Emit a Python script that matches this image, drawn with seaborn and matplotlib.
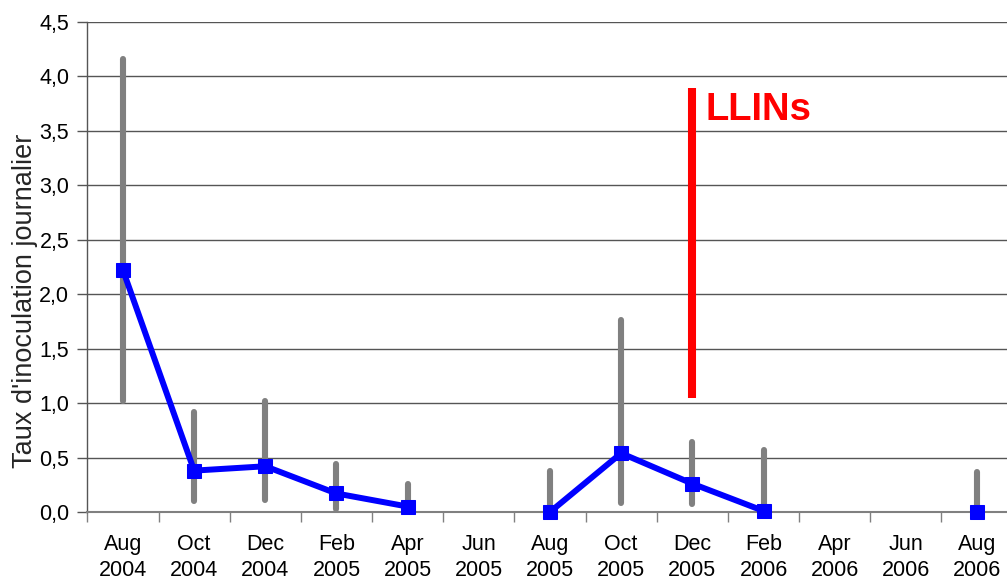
import matplotlib
matplotlib.use("Agg")
import matplotlib.pyplot as plt
import seaborn as sns
import numpy as np
import pandas as pd

# Sampling months
months = ["Aug", "Oct", "Dec", "Feb", "Apr", "Jun", "Aug",
          "Oct", "Dec", "Feb", "Apr", "Jun", "Aug"]
years = ["2004", "2004", "2004", "2005", "2005", "2005", "2005",
         "2005", "2005", "2006", "2006", "2006", "2006"]

# Daily inoculation rate (mean) and its interval bounds
eir_mean = [2.22, 0.38, 0.42, 0.17, 0.05, np.nan, 0.0,
            0.54, 0.26, 0.01, np.nan, np.nan, 0.0]
eir_low = [1.02, 0.10, 0.11, 0.03, 0.0, np.nan, 0.0,
           0.08, 0.07, 0.0, np.nan, np.nan, 0.0]
eir_high = [4.16, 0.92, 1.02, 0.44, 0.26, np.nan, 0.38,
            1.76, 0.64, 0.57, np.nan, np.nan, 0.37]

# Continuous survey periods (line is broken between them)
segment = [0, 0, 0, 0, 0, -1, 1, 1, 1, 1, -1, -1, 2]

# LLIN distribution marker
llin_pos = 8
llin_low, llin_high = 1.05, 3.89
llin_text = "LLINs"

ylabel = "Taux d'inoculation journalier"
yticks = [0.0, 0.5, 1.0, 1.5, 2.0, 2.5, 3.0, 3.5, 4.0, 4.5]

df = pd.DataFrame({
    "pos": np.arange(len(months)),
    "mean": eir_mean,
    "low": eir_low,
    "high": eir_high,
    "segment": segment,
})

sns.set_theme(style="white")
plt.rcParams["font.family"] = ["Liberation Sans", "DejaVu Sans"]

fig = plt.figure(figsize=(10.07, 5.83), dpi=100)
W, H = 1007, 583
ax = fig.add_axes([87.4 / W, (H - 512) / H, 925.2 / W, 490 / H])

# Horizontal gridlines
for y in yticks[1:]:
    ax.axhline(y, color="#555555", lw=1.0, zorder=0)

# Interval bars
valid = df.dropna(subset=["high"])
ax.vlines(valid["pos"], valid["low"], valid["high"], color="#808080",
          lw=4.4, zorder=2, capstyle="round")

# Mean series, one line per continuous period
line_df = df.dropna(subset=["mean"])
sns.lineplot(data=line_df, x="pos", y="mean", units="segment",
             estimator=None, color="#0000ff", lw=4.3, marker="s",
             markersize=9.5, markeredgecolor="#0000ff", ax=ax, zorder=3,
             legend=False, clip_on=False)

# LLIN distribution
ax.vlines([llin_pos], [llin_low], [llin_high], color="#ff0000", lw=5.8,
          zorder=4)
ax.text(llin_pos + 0.18, (llin_low + llin_high) / 2 + 1.22, llin_text,
        color="#ff0000", fontsize=27.5, fontweight="bold",
        ha="left", va="center")

ax.set_xlim(-0.5, len(months) - 0.5)
ax.set_ylim(0, 4.5)

# Category boundaries as major ticks, labels centred with minor ticks
ax.set_xticks(np.arange(len(months) + 1) - 0.5)
ax.set_xticklabels([])
ax.set_xticks(np.arange(len(months)), minor=True)
ax.set_xticklabels([f"{m}\n{y}" for m, y in zip(months, years)],
                   minor=True, fontsize=15.5, linespacing=1.35)
ax.tick_params(axis="x", which="major", direction="out", length=7,
               width=1, color="#808080", bottom=True)
ax.tick_params(axis="x", which="minor", length=0, pad=15.5, bottom=True,
               labelcolor="black")

ax.set_yticks(yticks)
ax.set_yticklabels([f"{v:.1f}".replace(".", ",") for v in yticks],
                   fontsize=15.5)
ax.tick_params(axis="y", direction="out", length=7, width=1,
               color="#555555", left=True, pad=6, labelcolor="black")

ax.set_xlabel("")
ax.set_ylabel(ylabel, fontsize=19.5)
ax.yaxis.set_label_coords(-0.053, 0.43)

for side in ["top", "right"]:
    ax.spines[side].set_visible(False)
ax.spines["left"].set_color("#555555")
ax.spines["left"].set_linewidth(1.0)
ax.spines["bottom"].set_color("#808080")
ax.spines["bottom"].set_linewidth(1.5)

fig.savefig("out.png", dpi=100)
